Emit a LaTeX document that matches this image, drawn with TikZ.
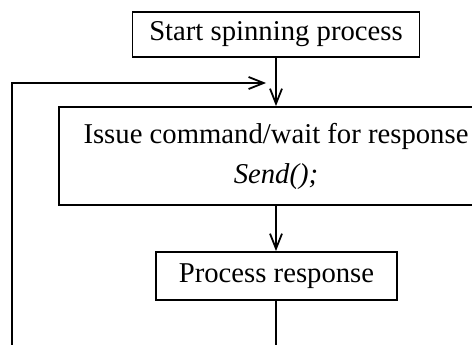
\documentclass[tikz,border=0pt]{standalone}
\usepackage{fontspec}
\setmainfont{Liberation Serif}
\usetikzlibrary{arrows.meta}

\tikzset{
  >={Straight Barb[length=15pt,width=12pt]},
  flowline/.style={line width=1.8pt},
  stepbox/.style={draw, line width=1.8pt, align=center, inner sep=0pt,
    font=\fontsize{28.7}{40}\selectfont}
}

\begin{document}
\begin{tikzpicture}[x=1pt,y=1pt]

      % page frame (the big box runs off the right edge)
      \clip (0,0) rectangle (472,-345);

      % The three boxes of the loop.
      \node [stepbox, minimum width=287pt, minimum height=45pt]
      (start) at (276,-34.5) {Start spinning process};

      \node [stepbox, minimum width=434pt, minimum height=98pt]
      (issue) at (276,-156) {Issue command/wait for response\\
        \textit{Send();}};

      \node [stepbox, minimum width=241pt, minimum height=48pt]
      (process) at (276.5,-276) {Process response};

      % Ends of the lines that leave the picture.
      \coordinate (loopbot) at (12,-345);
      \coordinate (looptip) at (266,-83);
      \coordinate (outbot) at (276,-345);

      % Down the flow.
      \draw[flowline, ->] (start.south -| issue.north) -- (issue.north);
      \draw[flowline, ->] (issue.south) -- (process.north -| issue.south);
      \draw[flowline] (process.south -| outbot) -- (outbot);

      % The way back to the top.
      \draw[flowline, ->] (loopbot) |- (looptip);
    \end{tikzpicture}
\end{document}
